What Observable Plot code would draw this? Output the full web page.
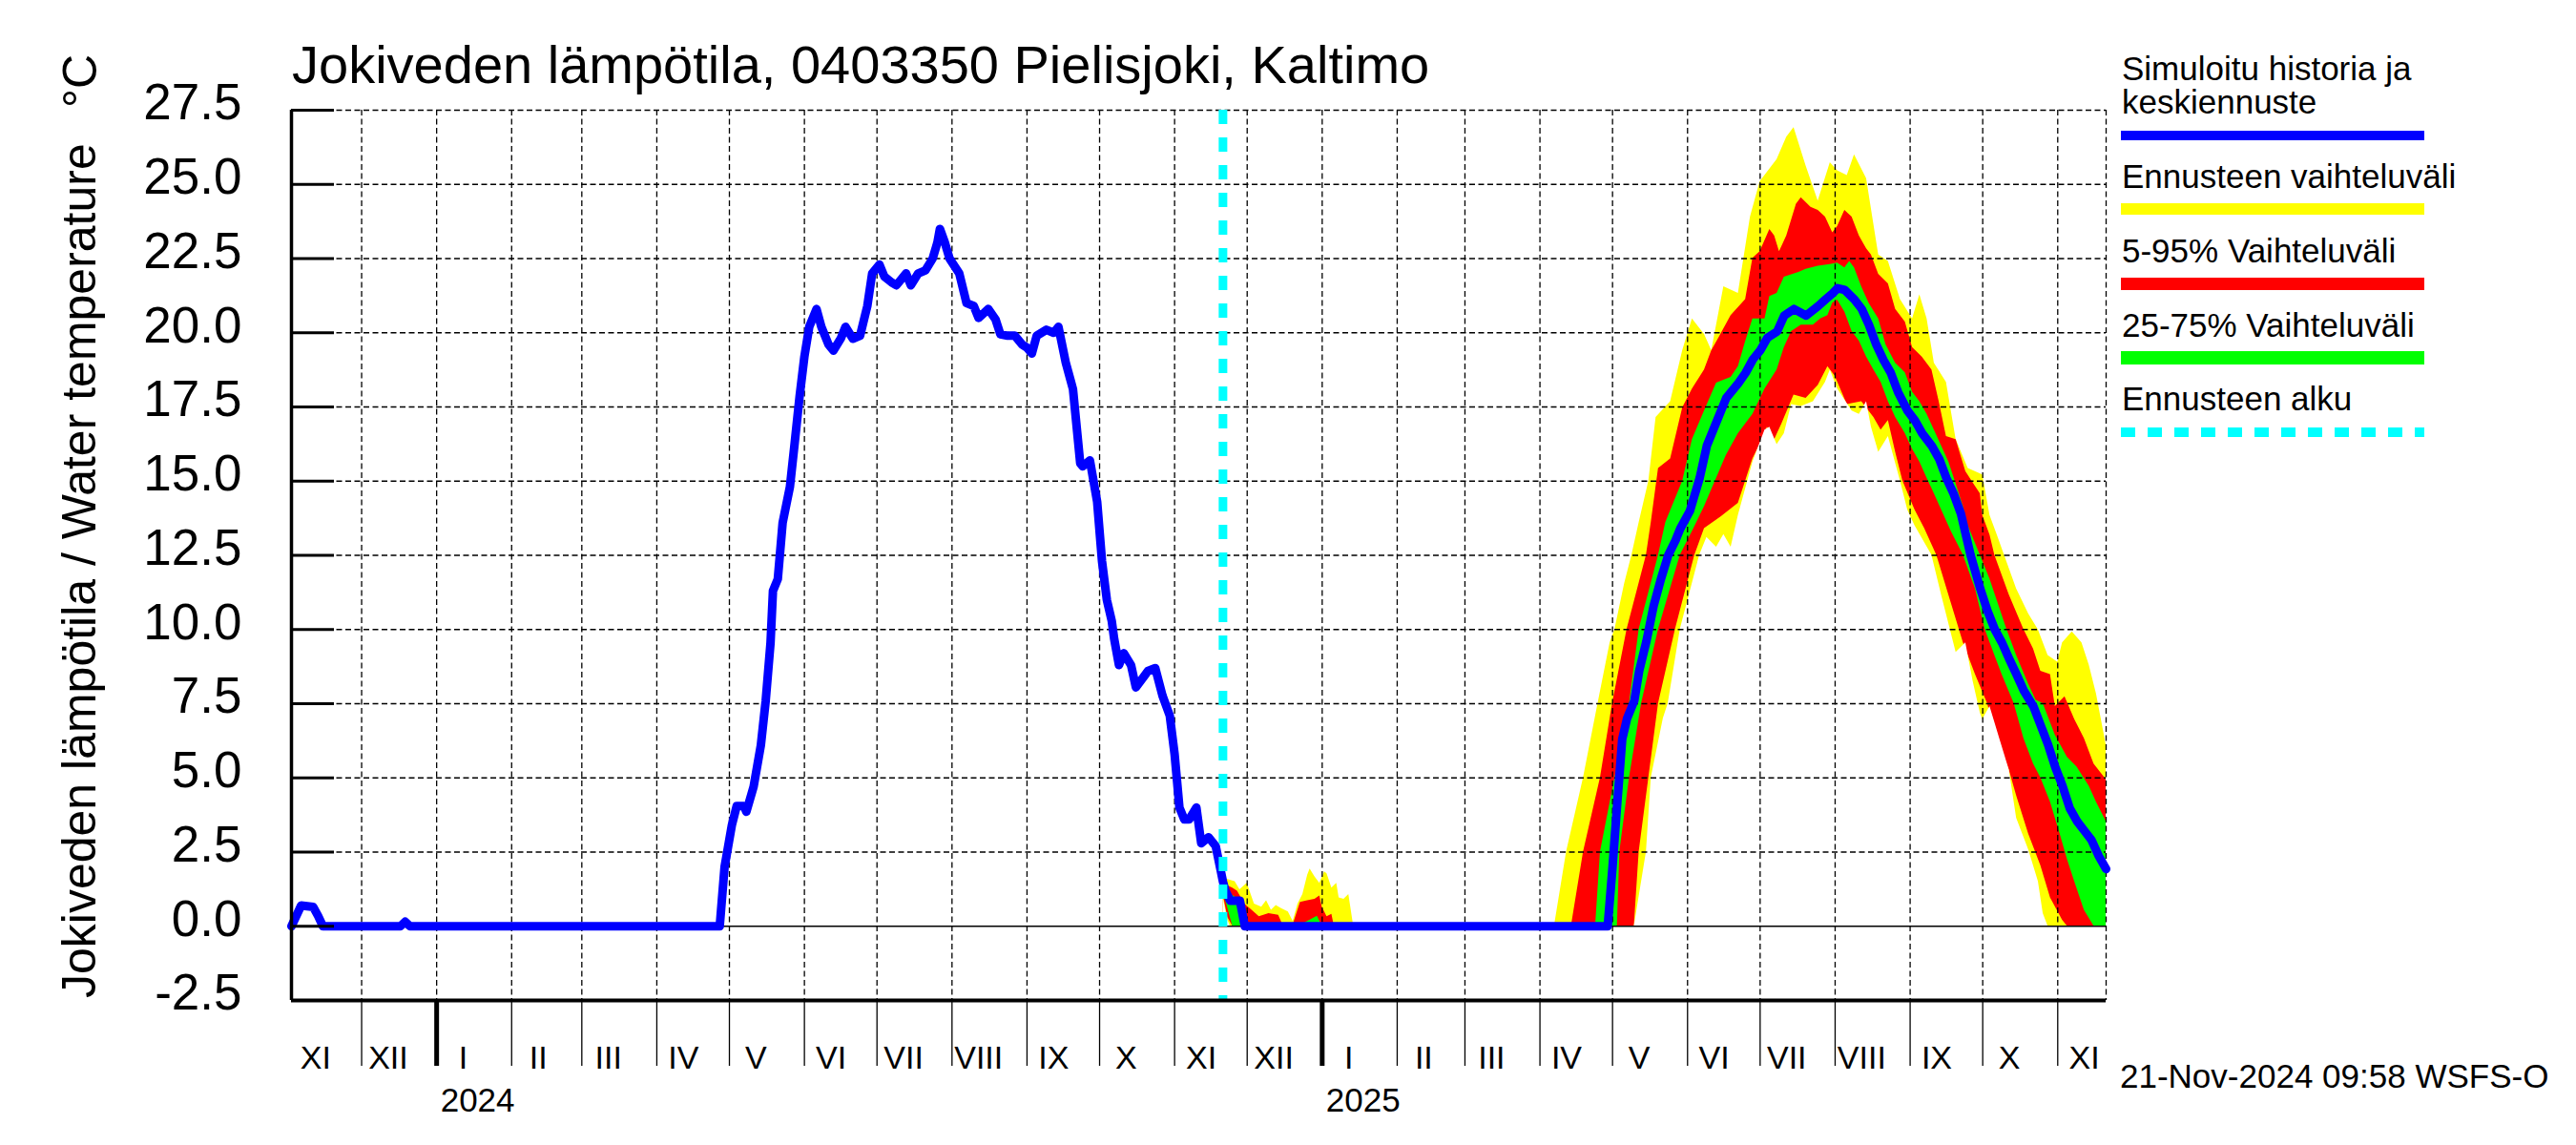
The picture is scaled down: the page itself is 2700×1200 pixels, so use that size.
<!DOCTYPE html>
<html><head><meta charset="utf-8">
<script src="https://cdn.jsdelivr.net/npm/d3@7"></script>
<script src="https://cdn.jsdelivr.net/npm/@observablehq/plot@0.6"></script>
<style>
html,body{margin:0;padding:0;background:#fff;}
#wrap{position:relative;width:2700px;height:1200px;overflow:hidden;}
#overlay{position:absolute;left:0;top:0;pointer-events:none;}
#overlay text{font-family:"Liberation Sans",Arial,Helvetica,sans-serif;fill:#000;}
</style></head><body>
<div id="wrap"><div id="chart"></div>
<svg id="overlay" width="2700" height="1200">
  <text x="306" y="87" font-size="56">Jokiveden lämpötila, 0403350 Pielisjoki, Kaltimo</text>
  <text transform="translate(100,1046) rotate(-90)" font-size="50">Jokiveden lämpötila / Water temperature</text>
  <text transform="translate(101,113) rotate(-90)" font-size="50">°C</text>
  <text x="2224" y="84" font-size="35">Simuloitu historia ja</text>
  <text x="2224" y="119" font-size="35">keskiennuste</text>
  <rect x="2223" y="137" width="318" height="10" fill="#0000ff"/>
  <text x="2224" y="197" font-size="35">Ennusteen vaihteluväli</text>
  <rect x="2223" y="213" width="318" height="12" fill="#ffff00"/>
  <text x="2224" y="275" font-size="35">5-95% Vaihteluväli</text>
  <rect x="2223" y="291" width="318" height="13" fill="#ff0000"/>
  <text x="2224" y="353" font-size="35">25-75% Vaihteluväli</text>
  <rect x="2223" y="368" width="318" height="14" fill="#00ff00"/>
  <text x="2224" y="430" font-size="35">Ennusteen alku</text>
  <line x1="2223" x2="2541" y1="453" y2="453" stroke="#00ffff" stroke-width="10" stroke-dasharray="15,13"/>
  <text x="2222" y="1140" font-size="35">21-Nov-2024 09:58 WSFS-O</text>
</svg></div>
<script>
// ---- data ----
const monthLabels = ["I","II","III","IV","V","VI","VII","VIII","IX","X","XI","XII"];
const yTickValues = [-2.5,0,2.5,5,7.5,10,12.5,15,17.5,20,22.5,25,27.5];
const xStart = "2023-11-02", xEnd = "2025-11-21", forecastStart = "2024-11-21";

const history = [["2023-11-02",0],["2023-11-06",0.7],["2023-11-11",0.65],["2023-11-13",0.35],["2023-11-15",0],["2023-12-17",0],["2023-12-19",0.15],["2023-12-21",0],["2024-04-27",0],["2024-04-29",2.0],["2024-05-02",3.4],["2024-05-04",4.05],["2024-05-07",4.05],["2024-05-08",3.86],["2024-05-11",4.7],["2024-05-14",6.1],["2024-05-16",7.6],["2024-05-18",9.55],["2024-05-19",11.3],["2024-05-21",11.7],["2024-05-23",13.6],["2024-05-26",14.8],["2024-05-28",16.3],["2024-05-30",17.85],["2024-06-01",19.2],["2024-06-03",20.2],["2024-06-06",20.8],["2024-06-08",20.2],["2024-06-11",19.6],["2024-06-13",19.4],["2024-06-16",19.8],["2024-06-18",20.2],["2024-06-21",19.8],["2024-06-24",19.9],["2024-06-27",20.9],["2024-06-29",22.0],["2024-07-02",22.3],["2024-07-04",21.9],["2024-07-07",21.7],["2024-07-09",21.6],["2024-07-13",22.0],["2024-07-15",21.6],["2024-07-18",22.0],["2024-07-21",22.1],["2024-07-24",22.5],["2024-07-26",23.05],["2024-07-27",23.5],["2024-07-29",23.05],["2024-07-31",22.5],["2024-08-04",22.0],["2024-08-07",21.0],["2024-08-10",20.9],["2024-08-12",20.5],["2024-08-16",20.8],["2024-08-19",20.45],["2024-08-21",19.95],["2024-08-24",19.9],["2024-08-27",19.9],["2024-08-30",19.6],["2024-09-01",19.5],["2024-09-03",19.3],["2024-09-05",19.9],["2024-09-09",20.1],["2024-09-12",20.0],["2024-09-14",20.2],["2024-09-17",19.0],["2024-09-19",18.4],["2024-09-20",18.1],["2024-09-23",15.6],["2024-09-24",15.5],["2024-09-27",15.7],["2024-09-30",14.3],["2024-10-02",12.3],["2024-10-04",11.0],["2024-10-06",10.3],["2024-10-07",9.7],["2024-10-09",8.8],["2024-10-11",9.2],["2024-10-14",8.8],["2024-10-16",8.05],["2024-10-21",8.6],["2024-10-24",8.7],["2024-10-27",7.77],["2024-10-30",7.1],["2024-11-01",5.8],["2024-11-03",4.0],["2024-11-05",3.6],["2024-11-07",3.6],["2024-11-10",4.0],["2024-11-12",2.8],["2024-11-15",3.0],["2024-11-18",2.7],["2024-11-20",1.9],["2024-11-21",1.5]];

const median = [["2024-11-22",1.2],["2024-11-24",0.86],["2024-11-28",0.86],["2024-11-30",0],["2025-04-29",0],["2025-05-01",2.0],["2025-05-03",4.2],["2025-05-05",6.3],["2025-05-07",7.0],["2025-05-10",7.6],["2025-05-12",8.6],["2025-05-15",9.6],["2025-05-18",10.8],["2025-05-21",11.7],["2025-05-24",12.5],["2025-05-27",13.0],["2025-05-29",13.4],["2025-06-02",14.0],["2025-06-06",15.1],["2025-06-09",16.2],["2025-06-13",17.0],["2025-06-17",17.8],["2025-06-22",18.3],["2025-06-25",18.65],["2025-06-28",19.1],["2025-07-01",19.4],["2025-07-04",19.83],["2025-07-08",20.04],["2025-07-11",20.58],["2025-07-15",20.8],["2025-07-20",20.58],["2025-07-25",20.9],["2025-07-28",21.12],["2025-07-31",21.33],["2025-08-02",21.5],["2025-08-05",21.44],["2025-08-09",21.12],["2025-08-12",20.8],["2025-08-15",20.26],["2025-08-18",19.6],["2025-08-21",19.08],["2025-08-24",18.65],["2025-08-27",18.0],["2025-08-31",17.36],["2025-09-03",17.04],["2025-09-06",16.61],["2025-09-10",16.18],["2025-09-13",15.75],["2025-09-16",15.1],["2025-09-19",14.57],["2025-09-22",13.9],["2025-09-26",12.5],["2025-09-30",11.37],["2025-10-03",10.62],["2025-10-06",10.0],["2025-10-09",9.55],["2025-10-12",9.0],["2025-10-15",8.48],["2025-10-18",7.94],["2025-10-22",7.4],["2025-10-25",6.76],["2025-10-28",6.12],["2025-10-31",5.36],["2025-11-03",4.72],["2025-11-06",3.97],["2025-11-09",3.54],["2025-11-12",3.22],["2025-11-15",2.9],["2025-11-18",2.36],["2025-11-21",1.93]];

const rangeMax = [["2024-11-21",1.3],["2024-11-22",1.6],["2024-11-24",1.55],["2024-11-26",1.5],["2024-11-28",1.23],["2024-12-01",1.45],["2024-12-04",0.75],["2024-12-07",0.64],["2024-12-09",0.86],["2024-12-11",0.54],["2024-12-13",0.7],["2024-12-15",0.6],["2024-12-18",0.48],["2024-12-20",0.16],["2024-12-22",0.75],["2024-12-24",1.07],["2024-12-26",1.72],["2024-12-27",1.93],["2024-12-29",1.66],["2024-12-31",1.45],["2025-01-02",1.83],["2025-01-03",1.77],["2025-01-05",1.29],["2025-01-07",1.45],["2025-01-08",0.96],["2025-01-10",0.91],["2025-01-12",1.07],["2025-01-13",0.54],["2025-01-14",0],["2025-04-07",0],["2025-04-12",2.5],["2025-04-19",5.0],["2025-04-25",7.5],["2025-04-30",9.55],["2025-05-02",10.0],["2025-05-06",11.54],["2025-05-09",12.5],["2025-05-12",13.6],["2025-05-16",15.0],["2025-05-19",17.15],["2025-05-25",17.68],["2025-05-30",19.4],["2025-06-03",20.47],["2025-06-08",19.94],["2025-06-11",19.4],["2025-06-16",21.55],["2025-06-22",21.33],["2025-06-27",23.9],["2025-07-01",25.09],["2025-07-08",25.84],["2025-07-12",26.59],["2025-07-15",26.91],["2025-07-20",25.62],["2025-07-25",24.44],["2025-07-30",25.73],["2025-08-02",25.46],["2025-08-06",25.3],["2025-08-09",26.0],["2025-08-14",25.19],["2025-08-19",22.62],["2025-08-23",22.4],["2025-08-28",21.12],["2025-09-02",20.47],["2025-09-05",21.28],["2025-09-08",20.47],["2025-09-11",18.97],["2025-09-16",18.33],["2025-09-20",16.4],["2025-09-25",15.43],["2025-10-01",15.21],["2025-10-04",13.84],["2025-10-07",13.18],["2025-10-10",12.5],["2025-10-15",11.37],["2025-10-20",10.52],["2025-10-24",9.98],["2025-10-28",9.12],["2025-11-01",8.9],["2025-11-03",9.55],["2025-11-07",9.92],["2025-11-11",9.55],["2025-11-14",8.8],["2025-11-17",7.83],["2025-11-21",6.12]];

const p95 = [["2024-11-21",1.3],["2024-11-22",1.4],["2024-11-25",1.29],["2024-11-27",1.18],["2024-11-30",0.75],["2024-12-03",0.54],["2024-12-06",0.32],["2024-12-10",0.43],["2024-12-14",0.37],["2024-12-16",0],["2024-12-20",0.05],["2024-12-23",0.8],["2024-12-26",0.86],["2024-12-29",0.91],["2024-12-31",1.02],["2025-01-01",0.64],["2025-01-03",0.32],["2025-01-05",0.4],["2025-01-06",0],["2025-04-14",0],["2025-04-19",2.5],["2025-04-26",5.0],["2025-05-01",7.5],["2025-05-07",10.0],["2025-05-15",12.5],["2025-05-17",13.6],["2025-05-20",15.43],["2025-05-25",15.75],["2025-05-30",17.47],["2025-06-03",18.1],["2025-06-08",18.75],["2025-06-11",19.4],["2025-06-14",19.83],["2025-06-19",20.58],["2025-06-25",21.12],["2025-06-28",22.51],["2025-07-01",22.73],["2025-07-05",23.48],["2025-07-07",23.26],["2025-07-09",22.73],["2025-07-12",23.26],["2025-07-16",24.33],["2025-07-18",24.55],["2025-07-22",24.23],["2025-07-25",24.12],["2025-07-28",23.9],["2025-07-31",23.37],["2025-08-02",23.58],["2025-08-05",24.12],["2025-08-08",23.9],["2025-08-11",23.26],["2025-08-14",22.83],["2025-08-16",22.62],["2025-08-19",21.97],["2025-08-23",21.65],["2025-08-26",20.79],["2025-08-30",20.36],["2025-09-02",19.5],["2025-09-06",19.18],["2025-09-10",18.75],["2025-09-13",17.68],["2025-09-16",16.5],["2025-09-20",16.4],["2025-09-24",15.32],["2025-09-30",14.57],["2025-10-01",13.84],["2025-10-04",13.18],["2025-10-06",12.5],["2025-10-12",11.16],["2025-10-18",10.0],["2025-10-22",9.34],["2025-10-25",8.59],["2025-10-29",8.48],["2025-10-31",7.4],["2025-11-04",7.73],["2025-11-08",6.97],["2025-11-12",6.33],["2025-11-16",5.47],["2025-11-21",4.94]];

const p75 = [["2024-11-21",1.25],["2024-11-23",1.1],["2024-11-26",1.0],["2024-11-28",0.6],["2024-11-30",0],["2024-12-20",0],["2024-12-25",0.12],["2024-12-30",0.34],["2025-01-01",0],["2025-04-24",0],["2025-04-26",2.5],["2025-05-02",5.0],["2025-05-08",7.5],["2025-05-12",10.0],["2025-05-20",12.5],["2025-05-23",13.6],["2025-05-30",15.0],["2025-06-03",16.4],["2025-06-08",17.36],["2025-06-13",18.3],["2025-06-19",18.5],["2025-06-22",18.86],["2025-06-25",19.7],["2025-06-28",20.47],["2025-07-03",20.47],["2025-07-05",21.22],["2025-07-08",21.33],["2025-07-11",21.87],["2025-07-17",22.03],["2025-07-20",22.14],["2025-07-25",22.24],["2025-07-30",22.3],["2025-08-02",22.35],["2025-08-05",22.19],["2025-08-07",22.4],["2025-08-09",22.19],["2025-08-12",21.54],["2025-08-15",21.0],["2025-08-19",20.47],["2025-08-22",19.6],["2025-08-26",18.97],["2025-08-30",18.65],["2025-09-02",18.0],["2025-09-05",17.68],["2025-09-08",17.25],["2025-09-11",16.72],["2025-09-14",16.18],["2025-09-17",15.64],["2025-09-20",14.9],["2025-09-23",14.14],["2025-09-25",13.5],["2025-09-30",12.5],["2025-10-04",11.7],["2025-10-11",10.0],["2025-10-15",9.12],["2025-10-20",8.15],["2025-10-23",7.62],["2025-10-26",7.5],["2025-10-31",6.44],["2025-11-05",5.69],["2025-11-09",5.36],["2025-11-14",4.72],["2025-11-17",4.18],["2025-11-21",3.54]];

const p25 = [["2024-11-21",1.2],["2024-11-23",0.6],["2024-11-25",0],["2025-05-03",0],["2025-05-04",2.5],["2025-05-08",5.0],["2025-05-13",7.5],["2025-05-20",10.0],["2025-05-29",12.5],["2025-06-03",13.3],["2025-06-08",14.14],["2025-06-13",15.1],["2025-06-17",15.86],["2025-06-22",16.6],["2025-06-28",17.25],["2025-07-03",18.1],["2025-07-08",18.75],["2025-07-11",19.5],["2025-07-14",20.04],["2025-07-18",20.26],["2025-07-23",20.26],["2025-07-26",20.47],["2025-07-29",20.58],["2025-07-31",21.0],["2025-08-02",21.1],["2025-08-05",20.7],["2025-08-08",20.04],["2025-08-11",19.72],["2025-08-14",19.18],["2025-08-17",18.75],["2025-08-20",18.33],["2025-08-23",17.68],["2025-08-26",17.15],["2025-08-30",16.6],["2025-09-02",16.07],["2025-09-05",15.64],["2025-09-08",15.1],["2025-09-11",14.57],["2025-09-14",14.03],["2025-09-18",13.3],["2025-09-23",12.5],["2025-09-28",11.37],["2025-10-02",10.0],["2025-10-06",9.12],["2025-10-09",8.48],["2025-10-14",7.5],["2025-10-18",6.33],["2025-10-22",5.47],["2025-10-25",5.0],["2025-10-29",4.18],["2025-11-02",3.1],["2025-11-05",2.25],["2025-11-08",1.5],["2025-11-12",0.54],["2025-11-16",0],["2025-11-21",0]];

const p5 = [["2024-11-21",1.1],["2024-11-23",0.3],["2024-11-25",0],["2025-05-10",0],["2025-05-12",2.5],["2025-05-16",5.0],["2025-05-20",7.5],["2025-05-27",10.0],["2025-06-04",12.5],["2025-06-08",13.4],["2025-06-15",13.8],["2025-06-22",14.25],["2025-06-28",15.75],["2025-07-02",16.4],["2025-07-04",16.82],["2025-07-07",16.4],["2025-07-10",16.93],["2025-07-15",17.9],["2025-07-20",17.79],["2025-07-25",18.22],["2025-07-29",18.86],["2025-08-01",18.54],["2025-08-06",17.58],["2025-08-12",17.68],["2025-08-17",17.15],["2025-08-20",16.72],["2025-08-23",17.04],["2025-08-26",15.97],["2025-08-29",15.0],["2025-09-03",14.03],["2025-09-07",13.4],["2025-09-12",12.5],["2025-09-17",11.16],["2025-09-23",9.55],["2025-09-28",8.48],["2025-10-03",7.5],["2025-10-07",6.33],["2025-10-12",5.26],["2025-10-15",4.4],["2025-10-20",3.1],["2025-10-25",2.04],["2025-10-29",0.96],["2025-11-03",0.2],["2025-11-05",0]];

const rangeMin = [["2024-11-21",1.0],["2024-11-23",0.2],["2024-11-24",0],["2025-05-10",0],["2025-05-15",2.5],["2025-05-17",5.0],["2025-05-22",7.0],["2025-05-24",7.5],["2025-05-29",10.0],["2025-06-06",12.5],["2025-06-09",13.1],["2025-06-13",12.77],["2025-06-16",13.2],["2025-06-19",12.77],["2025-06-22",13.84],["2025-06-28",15.64],["2025-07-03",16.72],["2025-07-05",16.82],["2025-07-08",16.23],["2025-07-11",16.6],["2025-07-14",17.58],["2025-07-18",17.52],["2025-07-23",17.68],["2025-07-28",18.33],["2025-07-30",18.75],["2025-08-02",18.11],["2025-08-08",17.36],["2025-08-11",17.25],["2025-08-14",17.68],["2025-08-16",16.82],["2025-08-19",15.97],["2025-08-23",16.5],["2025-08-28",15.0],["2025-08-31",14.03],["2025-09-03",13.5],["2025-09-10",12.5],["2025-09-14",11.16],["2025-09-19",9.55],["2025-09-20",9.23],["2025-09-24",9.55],["2025-09-27",8.26],["2025-09-30",7.19],["2025-10-01",6.97],["2025-10-04",7.4],["2025-10-08",6.33],["2025-10-12",5.26],["2025-10-15",3.64],["2025-10-20",2.57],["2025-10-24",1.5],["2025-10-26",0.43],["2025-10-28",0]];

// ---- build ----
const rows = a => a.map(([d, v]) => ({date: new Date(d), value: v}));
const t0 = new Date(xStart), t1 = new Date(xEnd);
const monthStarts = d3.utcMonth.range(d3.utcMonth.ceil(new Date(t0.getTime() + 864e5)), t1);
const yearStarts = d3.utcYear.range(d3.utcYear.ceil(t0), t1);
const monthMids = d3.utcMonth.range(d3.utcMonth.floor(t0), t1).map(m => d3.utcDay.offset(m, 11));
const gridTimes = [...monthStarts, t1];
const black = "#000";
const dash = "6,3.5";

const chart = Plot.plot({
  width: 2700, height: 1200,
  marginLeft: 305, marginRight: 493, marginTop: 115, marginBottom: 152,
  x: {type: "utc", domain: [t0, t1]},
  y: {domain: [-2.5, 27.5]},
  style: {fontFamily: "Liberation Sans, Arial, Helvetica, sans-serif", fontSize: "35px", color: "#000", background: "#fff", overflow: "visible"},
  marks: [
    Plot.areaY(rows(rangeMax), {x: "date", y: "value", fill: "#ffff00"}),
    Plot.areaY(rows(p95), {x: "date", y: "value", fill: "#ff0000"}),
    Plot.areaY(rows(p75), {x: "date", y: "value", fill: "#00ff00"}),
    Plot.areaY(rows(p25), {x: "date", y: "value", fill: "#ff0000"}),
    Plot.areaY(rows(p5), {x: "date", y: "value", fill: "#ffff00"}),
    Plot.areaY(rows(rangeMin), {x: "date", y: "value", fill: "#ffffff"}),
    Plot.gridX(gridTimes, {stroke: black, strokeOpacity: 1, strokeWidth: 1.3, strokeDasharray: dash}),
    Plot.gridY(yTickValues.filter(v => v > 0), {stroke: black, strokeOpacity: 1, strokeWidth: 1.3, strokeDasharray: dash}),
    Plot.ruleY([0], {stroke: black, strokeWidth: 1.5}),
    Plot.line(rows(history.concat(median)), {x: "date", y: "value", stroke: "#0000ff", strokeWidth: 9, strokeLinejoin: "round"}),
    Plot.ruleX([new Date(forecastStart)], {stroke: "#00ffff", strokeWidth: 9, strokeDasharray: "15,14"}),
    Plot.ruleX([t0], {stroke: black, strokeWidth: 3.5}),
    Plot.ruleY([-2.5], {stroke: black, strokeWidth: 4}),
    Plot.axisY(yTickValues, {tickSize: -45, fill: "none", strokeWidth: 3, label: null}),
    Plot.axisY(yTickValues, {tickSize: 0, tickPadding: 52, dy: -7, fontSize: 53, tickFormat: v => v.toFixed(1), label: null}),
    Plot.axisX(monthStarts, {tickSize: 69, fill: "none", strokeWidth: 1.3, label: null}),
    Plot.axisX(yearStarts, {tickSize: 69, fill: "none", strokeWidth: 5, label: null}),
    Plot.axisX(monthMids, {tickSize: 0, tickPadding: 47, fontSize: 34, tickFormat: d => monthLabels[d.getUTCMonth()], label: null}),
    Plot.axisX(yearStarts, {tickSize: 0, tickPadding: 92, fontSize: 35, textAnchor: "start", dx: 4, tickFormat: d => String(d.getUTCFullYear()), label: null})
  ]
});
document.getElementById("chart").appendChild(chart);
</script>
</body></html>
